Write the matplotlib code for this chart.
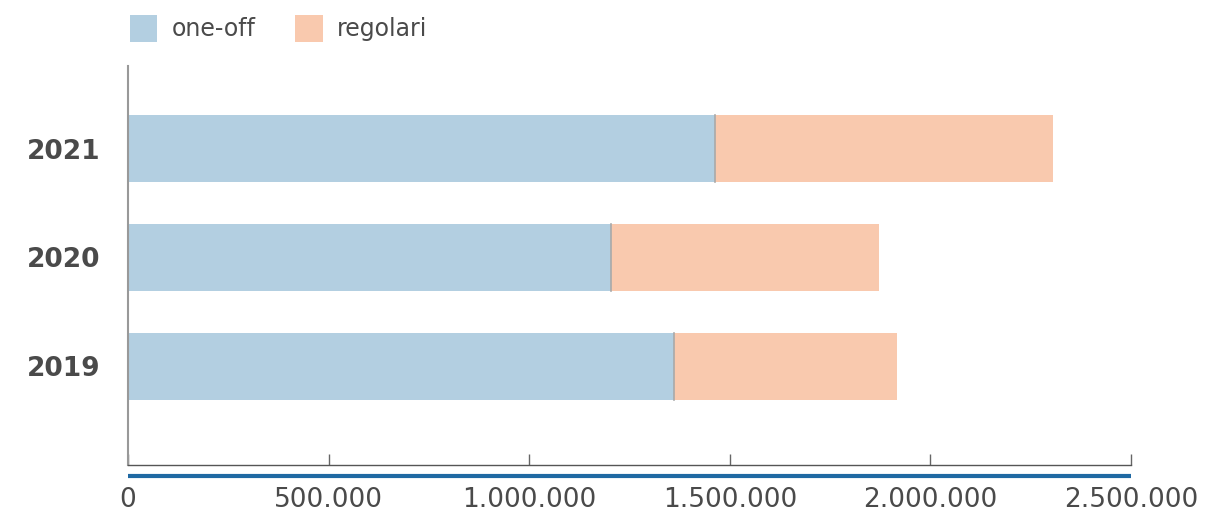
import matplotlib.pyplot as plt
from matplotlib.ticker import FuncFormatter
from matplotlib.patches import Patch

# dati
anni = ["2019", "2020", "2021"]
one_off = [1361000, 1204000, 1463000]
regolari = [556000, 668000, 843000]
xticks = [0, 500000, 1000000, 1500000, 2000000, 2500000]

col_one = "#b3cfe1"
col_reg = "#f9c9ae"
txt = "#4a4a4a"

plt.rcParams["font.family"] = ["DejaVu Sans"]
plt.rcParams["font.stretch"] = "normal"

fig = plt.figure(figsize=(12.12, 5.13), dpi=100)
ax = fig.add_axes([128 / 1212, 48 / 513, 1003 / 1212, 399 / 513])

y = range(len(anni))
h = 0.615
ax.barh(y, one_off, height=h, color=col_one, edgecolor="none")
ax.barh(y, regolari, left=one_off, height=h, color=col_reg, edgecolor="none")
# sottile separatore tra i due segmenti
for i in y:
    ax.plot([one_off[i], one_off[i]], [i - h / 2, i + h / 2], color="#a9a9a9", lw=1.2)

ax.set_xlim(0, 2500000)
ax.set_ylim(-0.904, 2.757)

ax.set_yticks(list(y))
ax.set_yticklabels(anni, fontsize=19, fontweight="bold", color=txt)
ax.tick_params(axis="y", length=0, pad=20)

ax.set_xticks(xticks)
ax.xaxis.set_major_formatter(FuncFormatter(lambda v, p: f"{int(v):,}".replace(",", ".")))
ax.tick_params(axis="x", direction="in", length=8, width=1, color="#666666",
               labelsize=19, labelcolor=txt, pad=16)

for s in ["top", "right"]:
    ax.spines[s].set_visible(False)
ax.spines["left"].set_color("#999999")
ax.spines["left"].set_linewidth(1.5)
ax.spines["bottom"].set_color("#555555")
ax.spines["bottom"].set_linewidth(1)

# linea blu sotto l'asse
ax.plot([0, 1], [-0.028, -0.028], transform=ax.transAxes, clip_on=False,
        color="#1f69a3", lw=3, solid_capstyle="butt")

handles = [Patch(facecolor=col_one, edgecolor="none", label="one-off"),
           Patch(facecolor=col_reg, edgecolor="none", label="regolari")]
fig.legend(handles=handles, loc="upper left", bbox_to_anchor=(130 / 1212, 1 - 15 / 513),
           ncol=2, frameon=False, fontsize=17, labelcolor=txt,
           handlelength=1.15, handleheight=1.4, handletextpad=0.6,
           columnspacing=1.7, borderpad=0, borderaxespad=0)

fig.savefig("out.png", dpi=100)
